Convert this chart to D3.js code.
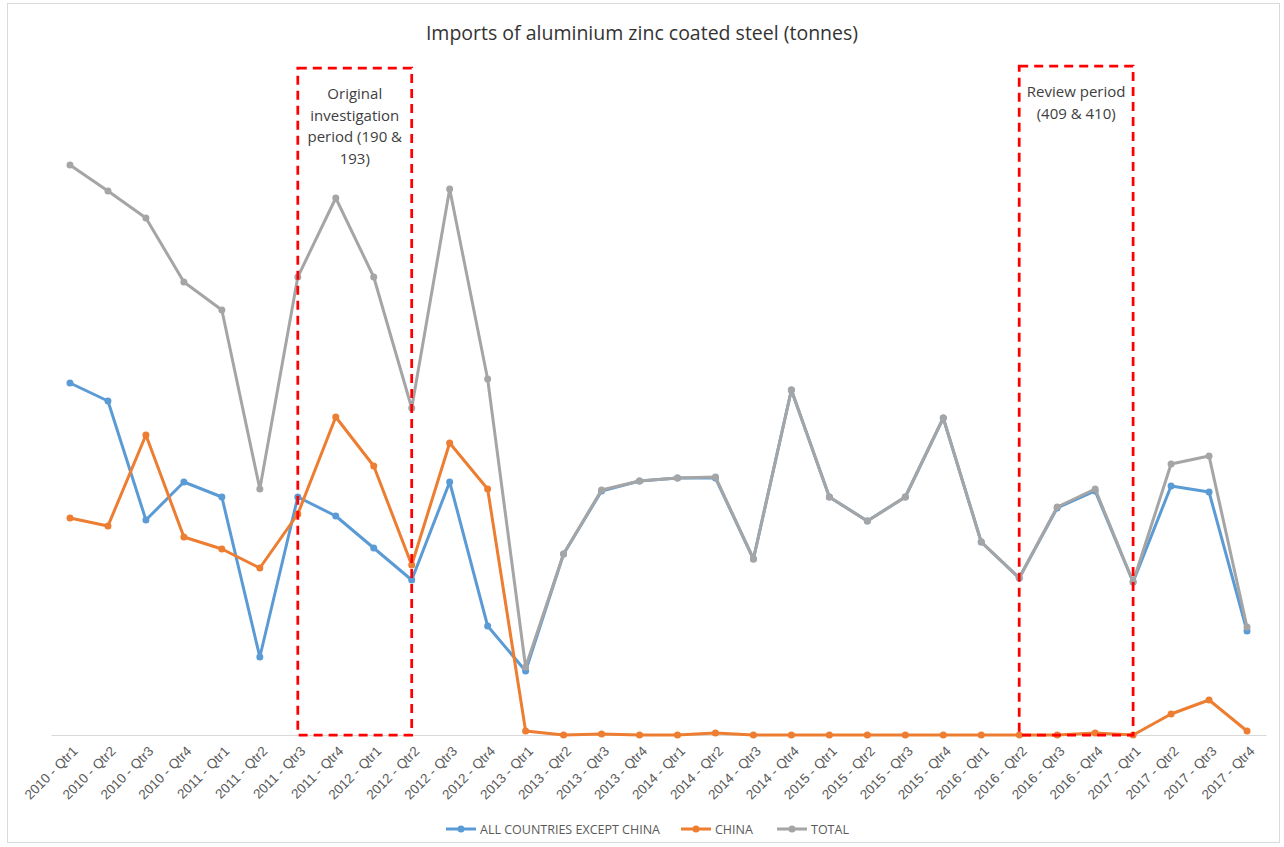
<!DOCTYPE html>
<html>
<head>
<meta charset="utf-8">
<script src="https://cdn.jsdelivr.net/npm/d3@7"></script>
<style>
  body { margin: 0; background: #fff; }
  svg { font-family: "Open Sans", "Liberation Sans", sans-serif; }
</style>
</head>
<body>
<svg id="chart"></svg>
<script>
// quarters
const quarters = [
  '2010 - Qtr1','2010 - Qtr2','2010 - Qtr3','2010 - Qtr4',
  '2011 - Qtr1','2011 - Qtr2','2011 - Qtr3','2011 - Qtr4',
  '2012 - Qtr1','2012 - Qtr2','2012 - Qtr3','2012 - Qtr4',
  '2013 - Qtr1','2013 - Qtr2','2013 - Qtr3','2013 - Qtr4',
  '2014 - Qtr1','2014 - Qtr2','2014 - Qtr3','2014 - Qtr4',
  '2015 - Qtr1','2015 - Qtr2','2015 - Qtr3','2015 - Qtr4',
  '2016 - Qtr1','2016 - Qtr2','2016 - Qtr3','2016 - Qtr4',
  '2017 - Qtr1','2017 - Qtr2','2017 - Qtr3','2017 - Qtr4'
];

// estimated tonnes (no y axis in the source)
const exceptChina = [17600,16700,10750,12650,11900,3900,11900,10950,9350,7750,12650,5450,
  3200,9050,12200,12700,12850,12850,8800,17250,11900,10700,11900,15850,9650,7850,11350,12200,
  7650,12450,12150,5200];
const china = [10850,10450,15000,9900,9300,8350,11050,15900,13450,8500,14600,12300,
  200,0,50,0,0,100,0,0,0,0,0,0,0,0,0,100,0,1050,1750,200];
const total = [28500,27200,25850,22650,21250,12300,22900,26850,22900,16350,27300,17800,
  3400,9050,12250,12700,12850,12900,8800,17250,11900,10700,11900,15850,9650,7850,11400,12300,
  7650,13550,13950,5400];

const seriesNames = ['ALL COUNTRIES EXCEPT CHINA', 'CHINA', 'TOTAL'];
const seriesColors = ['#5B9BD5', '#ED7D31', '#A5A5A5'];

// highlighted periods: first and last quarter, label lines
const periodStart = ['2011 - Qtr3', '2016 - Qtr2'];
const periodEnd = ['2012 - Qtr2', '2017 - Qtr1'];
const periodLabels = [
  ['Original', 'investigation', 'period (190 &', '193)'],
  ['Review period', '(409 & 410)']
];

const width = 1284, height = 847;
const margin = {top: 35, right: 18, bottom: 112, left: 51};
const innerW = width - margin.left - margin.right;
const innerH = height - margin.top - margin.bottom;

const svg = d3.select('#chart')
  .attr('width', width)
  .attr('height', height);

svg.append('rect')
  .attr('x', 7.5).attr('y', 3.5)
  .attr('width', 1272).attr('height', 839)
  .attr('fill', '#fff')
  .attr('stroke', '#d9d9d9');

const chart = svg.append('g')
  .attr('transform', `translate(${margin.left}, ${margin.top})`);

const xscale = d3.scalePoint()
  .domain(quarters)
  .range([0, innerW])
  .padding(0.5);

const yscale = d3.scaleLinear()
  .domain([0, 35000])
  .range([innerH, 0]);

// title
svg.append('text')
  .attr('x', 642)
  .attr('y', 40)
  .attr('text-anchor', 'middle')
  .style('font-size', '19.5px')
  .style('fill', '#333')
  .text('Imports of aluminium zinc coated steel (tonnes)');

// x axis
const xaxis = d3.axisBottom(xscale).tickSize(0).tickPadding(0);
const xg = chart.append('g')
  .attr('transform', `translate(0, ${innerH})`)
  .call(xaxis);
xg.select('.domain').attr('stroke', '#d9d9d9');
xg.selectAll('text')
  .style('font-size', '13.5px')
  .style('fill', '#595959')
  .attr('text-anchor', 'end')
  .attr('dy', null)
  .attr('y', 0)
  .attr('transform', 'translate(8, 17) rotate(-45)');

// lines
const data = [exceptChina, china, total];
data.forEach((vals, i) => {
  const line = d3.line()
    .x((d, j) => xscale(quarters[j]))
    .y(d => yscale(d));
  chart.append('path')
    .attr('d', line(vals))
    .attr('fill', 'none')
    .attr('stroke', seriesColors[i])
    .attr('stroke-width', 3)
    .attr('stroke-linejoin', 'round');
  chart.append('g').selectAll('circle')
    .data(vals)
    .join('circle')
    .attr('cx', (d, j) => xscale(quarters[j]))
    .attr('cy', d => yscale(d))
    .attr('r', 3.5)
    .attr('fill', seriesColors[i]);
});

// period boxes
const boxTop = [33350, 33450];
periodStart.forEach((s, i) => {
  const x0 = xscale(s), x1 = xscale(periodEnd[i]);
  chart.append('rect')
    .attr('x', x0).attr('y', yscale(boxTop[i]))
    .attr('width', x1 - x0)
    .attr('height', innerH - yscale(boxTop[i]))
    .attr('fill', 'none')
    .attr('stroke', '#FF0000')
    .attr('stroke-width', 2.75)
    .attr('stroke-dasharray', '9,6');
  const t = chart.append('text')
    .attr('text-anchor', 'middle')
    .style('font-size', '15px')
    .style('fill', '#404040');
  periodLabels[i].forEach((l, k) => {
    t.append('tspan')
      .attr('x', (x0 + x1) / 2)
      .attr('y', yscale(boxTop[i]) + 31 + k * 21.5)
      .text(l);
  });
});

// legend
const legendX = [446, 681, 777];
const legend = svg.append('g').attr('transform', 'translate(0, 829)');
seriesNames.forEach((n, i) => {
  const g = legend.append('g').attr('transform', `translate(${legendX[i]}, 0)`);
  g.append('line')
    .attr('x1', 0).attr('x2', 30)
    .attr('stroke', seriesColors[i])
    .attr('stroke-width', 3);
  g.append('circle').attr('cx', 15).attr('r', 3.5).attr('fill', seriesColors[i]);
  g.append('text')
    .attr('x', 34).attr('y', 4.5)
    .style('font-size', '12.5px')
    .style('fill', '#595959')
    .text(n);
});
</script>
</body>
</html>
